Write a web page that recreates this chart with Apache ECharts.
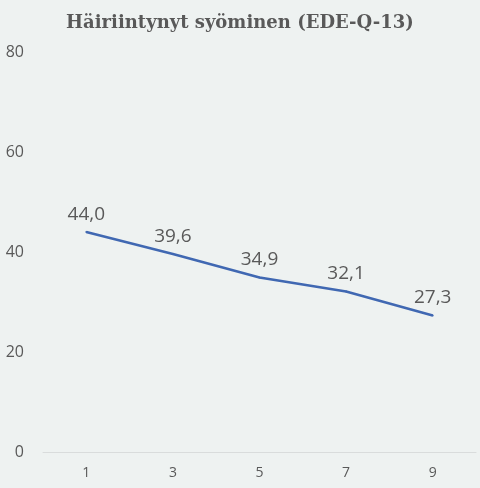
<!DOCTYPE html>
<html>
<head>
<meta charset="utf-8">
<script src="https://cdn.jsdelivr.net/npm/echarts@6/dist/echarts.min.js"></script>
<style>
  html, body { margin: 0; padding: 0; background: #eef2f1; }
  #chart { width: 480px; height: 488px; }
</style>
</head>
<body>
<div id="chart"></div>
<script>
var categories = ['1', '3', '5', '7', '9'];
var values = [44.0, 39.6, 34.9, 32.1, 27.3];
var yTicks = [0, 20, 40, 60, 80];

var myChart = echarts.init(document.getElementById('chart'));

var options = {
    backgroundColor: '#eef2f1',
    animation: false,
    title: {
        text: 'Häiriintynyt syöminen (EDE-Q-13)',
        left: 'center',
        top: 9,
        textStyle: {
            fontFamily: 'DejaVu Serif',
            fontWeight: 'bold',
            fontSize: 18,
            color: '#595959'
        }
    },
    grid: {
        left: 43,
        right: 4,
        top: 52,
        bottom: 36
    },
    xAxis: {
        type: 'category',
        data: categories,
        boundaryGap: true,
        axisLine: { show: true, lineStyle: { color: '#d9dcdc', width: 1 } },
        axisTick: { show: false },
        axisLabel: {
            color: '#595959',
            fontSize: 14,
            margin: 14,
            fontFamily: 'Open Sans'
        }
    },
    yAxis: {
        type: 'value',
        min: yTicks[0],
        max: yTicks[yTicks.length - 1],
        interval: 20,
        splitLine: { show: false },
        axisLine: { show: false },
        axisTick: { show: false },
        axisLabel: {
            color: '#595959',
            fontSize: 16,
            margin: 19,
            fontFamily: 'Open Sans'
        }
    },
    series: [
        {
            type: 'line',
            data: values,
            symbol: 'circle',
            symbolSize: 2,
            showSymbol: true,
            itemStyle: { color: '#4068b2' },
            lineStyle: { color: '#4068b2', width: 2.5 },
            label: {
                show: true,
                position: 'top',
                distance: 7,
                color: '#595959',
                fontSize: 19,
                fontFamily: 'Open Sans',
                formatter: function (p) {
                    return p.value.toFixed(1).replace('.', ',');
                }
            }
        }
    ]
};

myChart.setOption(options);
</script>
</body>
</html>
